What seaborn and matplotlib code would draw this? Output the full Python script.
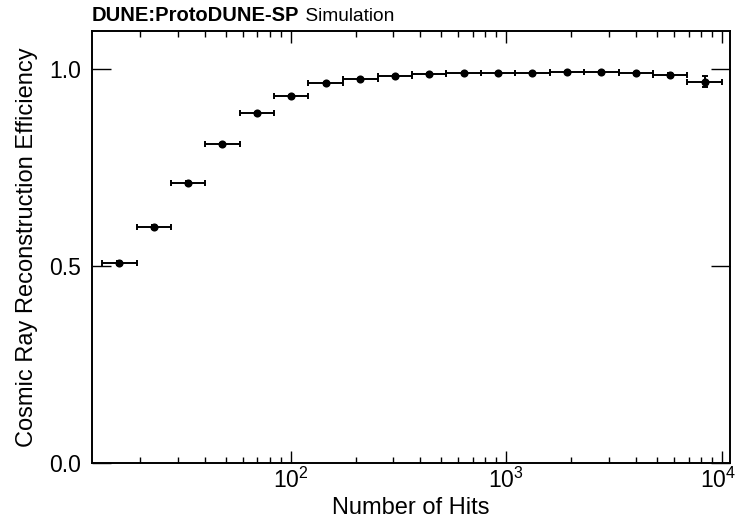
import matplotlib
matplotlib.use("Agg")
import numpy as np
import pandas as pd
import matplotlib.pyplot as plt
import matplotlib.transforms as mtransforms
import seaborn as sns
from matplotlib.ticker import FixedLocator, NullLocator, LogLocator, NullFormatter

# Hit-count bins (log spaced) and reconstruction efficiency per bin
bin_low = [13.3, 19.3, 27.8, 40.2, 58.1, 83.9, 121, 175, 253, 365,
           528, 762, 1100, 1590, 2300, 3320, 4790, 6920]
bin_high = [19.3, 27.8, 40.2, 58.1, 83.9, 121, 175, 253, 365, 528,
            762, 1100, 1590, 2300, 3320, 4790, 6920, 10000]
efficiency = [0.509, 0.600, 0.711, 0.810, 0.888, 0.932, 0.964, 0.975, 0.984,
              0.989, 0.991, 0.990, 0.990, 0.993, 0.993, 0.990, 0.986, 0.969]
eff_err = [0.005, 0.005, 0.005, 0.004, 0.004, 0.003, 0.003, 0.003, 0.002,
           0.002, 0.002, 0.002, 0.002, 0.002, 0.003, 0.004, 0.005, 0.015]

x_ticks = [100, 1000, 10000]
x_tick_labels = [r"$\mathdefault{10^{2}}$", r"$\mathdefault{10^{3}}$", r"$\mathdefault{10^{4}}$"]
y_ticks = [0.0, 0.5, 1.0]
y_tick_labels = ["0.0", "0.5", "1.0"]

lo = np.array(bin_low)
hi = np.array(bin_high)
centre = np.sqrt(lo * hi)
df = pd.DataFrame({"hits": centre, "eff": efficiency,
                   "xlo": centre - lo, "xhi": hi - centre, "yerr": eff_err})

sns.set_theme(style="ticks")
plt.rcParams["font.family"] = ["Liberation Sans", "DejaVu Sans"]
plt.rcParams["mathtext.fontset"] = "custom"
plt.rcParams["mathtext.rm"] = "Liberation Sans"
plt.rcParams["mathtext.it"] = "Liberation Sans:italic"
plt.rcParams["mathtext.bf"] = "Liberation Sans:bold"

fig = plt.figure(figsize=(7.38, 5.22), dpi=100)
ax = fig.add_axes([92 / 738, 1 - 463.3 / 522, (730 - 92) / 738, (463.3 - 30.7) / 522])

ax.errorbar(df["hits"], df["eff"], xerr=[df["xlo"], df["xhi"]], yerr=df["yerr"],
            fmt="none", ecolor="black", elinewidth=1.4, capsize=2.2, capthick=1.4,
            zorder=2)
sns.scatterplot(data=df, x="hits", y="eff", ax=ax, color="black", s=34,
                edgecolor="black", linewidth=0, zorder=3, legend=False)

ax.set_xscale("log")
ax.set_xlim(12.0, 10900)
ax.set_ylim(0.0, 1.098)

ax.xaxis.set_major_locator(FixedLocator(x_ticks))
ax.set_xticklabels(x_tick_labels)
ax.xaxis.set_minor_locator(LogLocator(base=10, subs=np.arange(2, 10)))
ax.xaxis.set_minor_formatter(NullFormatter())
ax.yaxis.set_major_locator(FixedLocator(y_ticks))
ax.set_yticklabels(y_tick_labels)
ax.yaxis.set_minor_locator(NullLocator())

for side in ["left", "right", "top", "bottom"]:
    ax.spines[side].set_visible(True)
    ax.spines[side].set_linewidth(1.4)
    ax.spines[side].set_color("black")

ax.tick_params(axis="both", which="both", direction="in", top=True, right=True,
               color="black", width=1.0, labelcolor="black")
ax.tick_params(axis="x", which="major", length=8.8, labelsize=16.5, pad=3)
ax.tick_params(axis="x", which="minor", length=4.6)
ax.tick_params(axis="y", which="major", length=13.7, labelsize=16.5, pad=8)

# keep the rightmost decade label inside the canvas
last = ax.get_xticklabels()[-1]
last.set_transform(last.get_transform() +
                   mtransforms.ScaledTranslation(-3 / 72, 0, fig.dpi_scale_trans))

ax.set_xlabel("Number of Hits", fontsize=17, color="black", labelpad=3)
ax.set_ylabel("Cosmic Ray Reconstruction Efficiency", fontsize=17, color="black",
              labelpad=8)

# Experiment tag above the frame: bold collaboration name, regular qualifier
tag = ax.annotate("DUNE:ProtoDUNE-SP", xy=(0, 1), xycoords="axes fraction",
                  xytext=(0, 7.3), textcoords="offset points", ha="left",
                  va="baseline", fontsize=14.5, fontweight="bold", color="black")
fig.canvas.draw()
bb = tag.get_window_extent()
baseline_px = 7.3 * fig.dpi / 72
ax.annotate(" Simulation", xy=(bb.x1, ax.get_window_extent().y1 + baseline_px),
            xycoords="figure pixels", ha="left", va="baseline",
            fontsize=13.8, color="black", annotation_clip=False)

fig.savefig("out.png", dpi=100)
